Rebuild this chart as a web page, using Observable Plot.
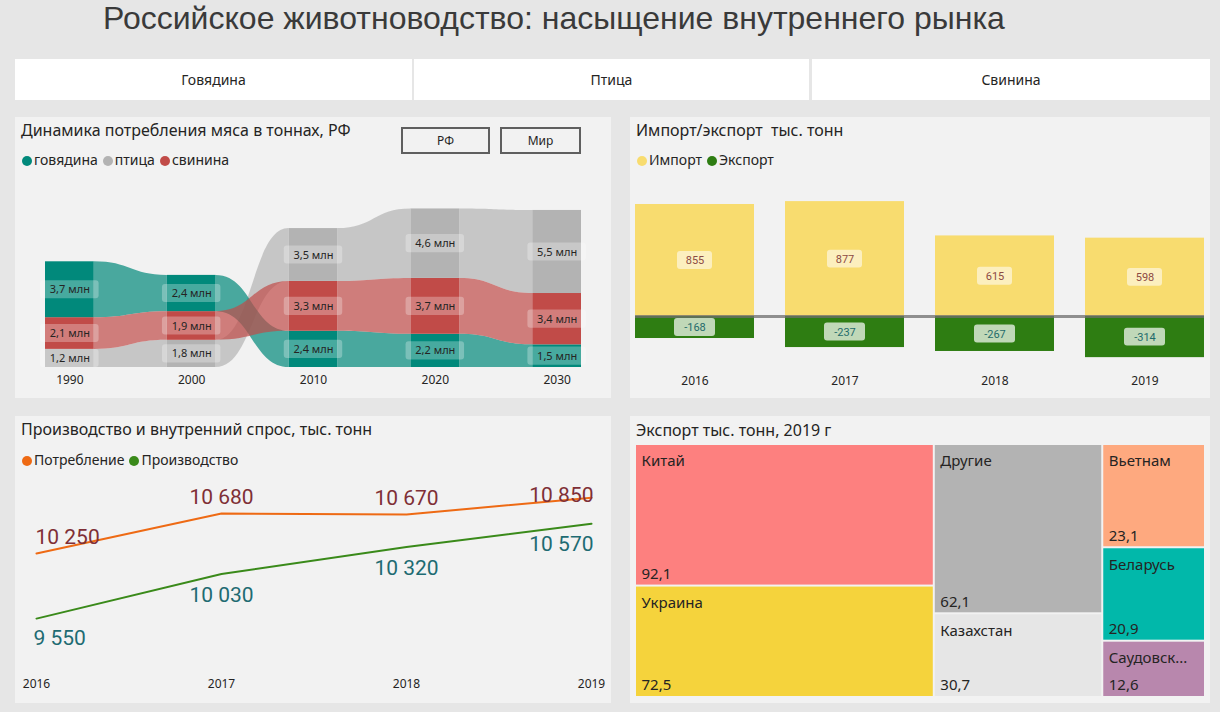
<!DOCTYPE html>
<html><head><meta charset="utf-8">
<script src="https://cdn.jsdelivr.net/npm/d3@7"></script>
<script src="https://cdn.jsdelivr.net/npm/@observablehq/plot@0.6"></script>
<style>
html,body{margin:0;padding:0;}
body{background:#e6e6e6;width:1220px;height:712px;position:relative;overflow:hidden;font-family:"Segoe UI","Noto Sans","Open Sans",sans-serif;color:#252423;}
.maintitle{position:absolute;left:103px;top:0px;font-family:"Liberation Sans",Arial,sans-serif;font-size:32px;line-height:36px;color:#3a3a3a;white-space:nowrap;}
.slicer{position:absolute;top:59px;height:41px;background:#fff;font-size:14px;line-height:41px;text-align:center;color:#252423;}
.panel{position:absolute;background:#f2f2f2;}
.panel svg{position:absolute;left:0;top:0;}
.ptitle{position:absolute;left:6px;font-size:16px;line-height:20px;white-space:nowrap;color:#252423;}
.legend{position:absolute;left:7px;font-size:14px;line-height:18px;white-space:nowrap;color:#252423;}
.legend span.dot{display:inline-block;width:10px;height:10px;border-radius:50%;margin-right:2px;vertical-align:-1px;}
.legend span.item{margin-right:5px;}
.btn{position:absolute;top:10px;height:23px;border:2px solid #5f5f5f;font-size:12px;line-height:23px;text-align:center;background:#f2f2f2;}
</style></head>
<body>
<div class="maintitle">Российское животноводство: насыщение внутреннего рынка</div>
<div class="slicer" style="left:15px;width:397px;">Говядина</div>
<div class="slicer" style="left:414px;width:395px;">Птица</div>
<div class="slicer" style="left:812px;width:398px;">Свинина</div>

<div class="panel" id="p1" style="left:15px;top:117px;width:596px;height:281px;"></div>
<div class="panel" id="p2" style="left:630px;top:117px;width:580px;height:281px;"></div>
<div class="panel" id="p3" style="left:15px;top:416px;width:596px;height:287px;"></div>
<div class="panel" id="p4" style="left:630px;top:416px;width:580px;height:287px;"></div>

<script>
// ---------- DATA ----------
// Panel 1: meat consumption, mln tonnes
const meatYears = ["1990", "2000", "2010", "2020", "2030"];
const beef = [3.7, 2.4, 2.4, 2.2, 1.5];
const poultry = [1.2, 1.8, 3.5, 4.6, 5.5];
const pork = [2.1, 1.9, 3.3, 3.7, 3.4];
const meatNames = ["птица", "говядина", "свинина"];
const meatColors = ["#b3b3b3", "#01897b", "#c14b48"];

// Panel 2: import / export, thousand tonnes
const tradeYears = ["2016", "2017", "2018", "2019"];
const imports = [855, 877, 615, 598];
const exports = [-168, -237, -267, -314];

// Panel 3: production and domestic demand, thousand tonnes
const lineYears = ["2016", "2017", "2018", "2019"];
const consumption = [10250, 10680, 10670, 10850];
const production = [9550, 10030, 10320, 10570];

// Panel 4: export by country 2019, thousand tonnes
const exportCountries = ["Китай", "Украина", "Другие", "Казахстан", "Вьетнам", "Беларусь", "Саудовская Аравия"];
const exportValues = [92.1, 72.5, 62.1, 30.7, 23.1, 20.9, 12.6];
const exportColumn = [0, 0, 1, 1, 2, 2, 2];
const exportColors = ["#fd807f", "#f5d33c", "#b3b3b3", "#e6e6e6", "#fea97f", "#01b8aa", "#b887ad"];

const FONT = '"Segoe UI","Noto Sans","Open Sans",sans-serif';
const NUMFONT = 'Roboto,"DejaVu Sans",sans-serif';
const ru = d3.formatLocale({decimal: ",", thousands: " ", grouping: [3], currency: ["", ""]});
const fmtThousands = ru.format(",");
const fmtDec = ru.format(".1f");

function addHTML(panel, html) { panel.insertAdjacentHTML("beforeend", html); }
function legendHTML(items, top) {
  return `<div class="legend" style="top:${top}px">` + items.map(([c, t]) =>
    `<span class="item"><span class="dot" style="background:${c}"></span>${t}</span>`).join("") + `</div>`;
}

// ---------- PANEL 1 : ribbon chart ----------
{
  const panel = document.getElementById("p1");
  const seriesVals = {"говядина": beef, "птица": poultry, "свинина": pork};
  const hw = 0.2;
  const stacked = [];
  meatYears.forEach((yr, i) => {
    const order = meatNames.slice().sort((a, b) => seriesVals[a][i] - seriesVals[b][i]);
    let acc = 0;
    order.forEach(n => {
      const v = seriesVals[n][i];
      stacked.push({name: n, i, value: v, y1: acc, y2: acc + v});
      acc += v;
    });
  });
  const find = (n, i) => stacked.find(d => d.name === n && d.i === i);
  const ribbons = [];
  meatNames.forEach(n => {
    for (let i = 0; i < meatYears.length - 1; i++) {
      const a = find(n, i), b = find(n, i + 1);
      ribbons.push({name: n, key: n + i, x: i + hw, y1: a.y1, y2: a.y2});
      ribbons.push({name: n, key: n + i, x: i + 1 - hw, y1: b.y1, y2: b.y2});
    }
  });
  const chart = Plot.plot({
    width: 596, height: 281,
    marginLeft: 30, marginRight: 30, marginTop: 80, marginBottom: 31,
    style: {background: "transparent", fontFamily: FONT, fontSize: "12px", color: "#252423"},
    x: {domain: [-hw, meatYears.length - 1 + hw], range: [30, 566], label: null},
    y: {domain: [0, 11], range: [250, 250 - 11 * 15.1], axis: null},
    color: {domain: meatNames, range: meatColors},
    marks: [
      Plot.area(ribbons, {x1: "x", y1: "y1", y2: "y2", z: "key", fill: "name", fillOpacity: 0.7, curve: "bump-x"}),
      Plot.rect(stacked, {x1: d => d.i - hw, x2: d => d.i + hw, y1: "y1", y2: "y2", fill: "name"}),
      Plot.rect(stacked, {x1: d => d.i - 0.24, x2: d => d.i + 0.24, y1: d => (d.y1 + d.y2) / 2 - 0.6, y2: d => (d.y1 + d.y2) / 2 + 0.6, fill: "white", fillOpacity: 0.28, rx: 3}),
      Plot.text(stacked, {x: "i", y: d => (d.y1 + d.y2) / 2, text: d => fmtDec(d.value) + " млн", fontSize: 11, fill: "#252423"}),
      Plot.axisX({ticks: meatYears.map((d, i) => i), tickFormat: i => meatYears[i], tickSize: 0, tickPadding: 8, fontSize: 12, label: null})
    ]
  });
  panel.appendChild(chart);
  addHTML(panel, `<div class="ptitle" style="top:3px">Динамика потребления мяса в тоннах, РФ</div>`);
  addHTML(panel, legendHTML([["#01897b", "говядина"], ["#b3b3b3", "птица"], ["#c14b48", "свинина"]], 34));
  addHTML(panel, `<div class="btn" style="left:386px;width:85px;">РФ</div><div class="btn" style="left:485px;width:77px;">Мир</div>`);
}

// ---------- PANEL 2 : import / export ----------
{
  const panel = document.getElementById("p2");
  const k = 0.131;
  const rows = tradeYears.map((y, i) => ({year: y, imp: imports[i], exp: exports[i]}));
  const chart = Plot.plot({
    width: 580, height: 281,
    marginLeft: 5, marginRight: 6, marginTop: 60, marginBottom: 30,
    style: {background: "transparent", fontFamily: FONT, fontSize: "12px", color: "#252423"},
    x: {type: "band", domain: tradeYears, range: [5, 574], paddingInner: 0.207, paddingOuter: 0, label: null},
    y: {domain: [-400, 1000], range: [199 + 400 * k, 199 - 1000 * k], axis: null},
    marks: [
      Plot.barY(rows, {x: "year", y1: 0, y2: "imp", fill: "#f8dc6f"}),
      Plot.barY(rows, {x: "year", y1: 0, y2: "exp", fill: "#2e7d12"}),
      Plot.ruleY([0], {stroke: "#6e6e6e", strokeWidth: 3, strokeOpacity: 0.75}),
      Plot.barY(rows, {x: "year", y1: d => d.imp / 2 - 68, y2: d => d.imp / 2 + 68, insetLeft: 42, insetRight: 42, fill: "white", fillOpacity: 0.55, rx: 3}),
      Plot.barY(rows, {x: "year", y1: d => d.exp / 2 - 68, y2: d => d.exp / 2 + 68, insetLeft: 39, insetRight: 39, fill: "white", fillOpacity: 0.7, rx: 3}),
      Plot.text(rows, {x: "year", y: d => d.imp / 2, text: d => String(d.imp), fill: "#8c4a44", fontSize: 11, fontFamily: NUMFONT, letterSpacing: "0.5px"}),
      Plot.text(rows, {x: "year", y: d => d.exp / 2, text: d => "-" + Math.abs(d.exp), fill: "#1f6b6b", fontSize: 11, fontFamily: NUMFONT, letterSpacing: "0.5px"}),
      Plot.axisX({tickSize: 0, tickPadding: 8, fontSize: 12, label: null})
    ]
  });
  panel.appendChild(chart);
  addHTML(panel, `<div class="ptitle" style="top:3px">Импорт/экспорт&nbsp; тыс. тонн</div>`);
  addHTML(panel, legendHTML([["#f8dc6f", "Импорт"], ["#2e7d12", "Экспорт"]], 34));
}

// ---------- PANEL 3 : lines ----------
{
  const panel = document.getElementById("p3");
  const k = 0.093;
  const n = lineYears.length;
  const cons = lineYears.map((y, i) => ({year: y, i, v: consumption[i]}));
  const prod = lineYears.map((y, i) => ({year: y, i, v: production[i]}));
  const anchor = d => d.i === 0 ? "start" : d.i === n - 1 ? "end" : "middle";
  const mkLabels = (data, opts) => ["start", "middle", "end"].map(a =>
    Plot.text(data.filter(d => anchor(d) === a), {x: "year", y: "v", text: d => fmtThousands(d.v), textAnchor: a, fontFamily: NUMFONT, fontSize: 21, ...opts(a)}));
  const chart = Plot.plot({
    width: 596, height: 287,
    marginLeft: 21, marginRight: 20, marginTop: 60, marginBottom: 34,
    style: {background: "transparent", fontFamily: FONT, fontSize: "12px", color: "#252423"},
    x: {type: "point", domain: lineYears, range: [21, 576], padding: 0, label: null},
    y: {domain: [9000, 11000], range: [253.25, 253.25 - 2000 * k], axis: null},
    marks: [
      Plot.line(prod, {x: "year", y: "v", stroke: "#3a8a1a", strokeWidth: 2}),
      Plot.line(cons, {x: "year", y: "v", stroke: "#ee6a14", strokeWidth: 2}),
      ...mkLabels(cons, a => ({fill: "#7f2f36", dy: a === "end" ? -2 : -16, dx: a === "start" ? -1 : a === "end" ? 2 : 0})),
      ...mkLabels(prod, a => ({fill: "#1e6b72", dy: a === "start" ? 20 : 21, dx: a === "start" ? -3 : a === "end" ? 2 : 0})),
      Plot.axisX({tickSize: 0, tickPadding: 10, fontSize: 12, label: null})
    ]
  });
  panel.appendChild(chart);
  addHTML(panel, `<div class="ptitle" style="top:3px">Производство и внутренний спрос, тыс. тонн</div>`);
  addHTML(panel, legendHTML([["#ee6a14", "Потребление"], ["#3a8a1a", "Производство"]], 35));
}

// ---------- PANEL 4 : treemap ----------
{
  const panel = document.getElementById("p4");
  const cols = d3.groups(exportCountries.map((name, i) => ({name, value: exportValues[i], col: exportColumn[i]})), d => d.col)
    .map(([c, items]) => ({children: items}));
  const root = d3.hierarchy({children: cols}).sum(d => d.value || 0);
  d3.treemap().tile(d3.treemapSliceDice).size([1, 1]).round(false)(root);
  const leaves = root.leaves().map(l => ({name: l.data.name, value: l.data.value, x0: l.x0, x1: l.x1, y0: l.y0, y1: l.y1}));
  const X0 = 5, X1 = 575, Y0 = 28, Y1 = 281;
  const ctx = document.createElement("canvas").getContext("2d");
  ctx.font = "15px " + FONT;
  const fit = (text, w) => {
    if (ctx.measureText(text).width <= w) return text;
    let t = text;
    while (t.length > 1 && ctx.measureText(t + "...").width > w) t = t.slice(0, -1);
    return t + "...";
  };
  const chart = Plot.plot({
    width: 580, height: 287,
    marginLeft: X0, marginRight: 580 - X1, marginTop: Y0, marginBottom: 287 - Y1,
    style: {background: "transparent", fontFamily: FONT, fontSize: "15px", color: "#252423"},
    x: {domain: [0, 1], range: [X0, X1], axis: null},
    y: {domain: [0, 1], range: [Y0, Y1], axis: null},
    color: {domain: exportCountries, range: exportColors},
    marks: [
      Plot.rect(leaves, {x1: "x0", x2: "x1", y1: "y0", y2: "y1", fill: "name", inset: 1}),
      Plot.text(leaves, {x: "x0", y: "y0", text: d => fit(d.name, (d.x1 - d.x0) * (X1 - X0) - 20), textAnchor: "start", dx: 6, dy: 17, fontSize: 15, fill: "#252423"}),
      Plot.text(leaves, {x: "x0", y: "y1", text: d => fmtDec(d.value), textAnchor: "start", dx: 6, dy: -12, fontSize: 15, fill: "#252423"})
    ]
  });
  panel.appendChild(chart);
  addHTML(panel, `<div class="ptitle" style="top:4px">Экспорт тыс. тонн, 2019 г</div>`);
}
</script>
</body></html>
